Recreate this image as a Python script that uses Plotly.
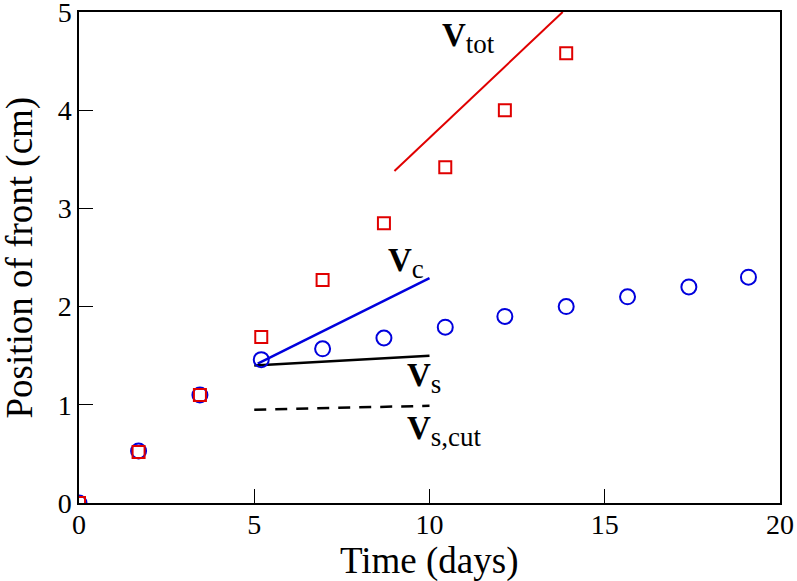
import plotly.graph_objects as go

t_circ = [0, 1.7, 3.45, 5.2, 6.95, 8.7, 10.45, 12.15, 13.9, 15.65, 17.4, 19.1]
y_circ = [0, 0.53, 1.1, 1.46, 1.57, 1.68, 1.79, 1.9, 2.0, 2.1, 2.2, 2.3]
t_sq = [0, 1.7, 3.45, 5.2, 6.95, 8.7, 10.45, 12.15, 13.9]
y_sq = [0, 0.52, 1.1, 1.69, 2.27, 2.85, 3.42, 4.0, 4.58]

vtot_x = [9.0, 13.8]
vtot_y = [3.38, 5.0]
vc_x = [5.1, 10.0]
vc_y = [1.42, 2.29]
vs_x = [5.0, 10.0]
vs_y = [1.40, 1.50]
vscut_x = [5.0, 10.0]
vscut_y = [0.95, 0.99]

fig = go.Figure()
fig.add_trace(go.Scatter(x=vtot_x, y=vtot_y, mode="lines", line=dict(color="#e00000", width=2)))
fig.add_trace(go.Scatter(x=vc_x, y=vc_y, mode="lines", line=dict(color="#0000dd", width=2.5)))
fig.add_trace(go.Scatter(x=vs_x, y=vs_y, mode="lines", line=dict(color="black", width=2.5)))
fig.add_trace(go.Scatter(x=vscut_x, y=vscut_y, mode="lines", line=dict(color="black", width=2.5, dash="12px,9px")))
fig.add_trace(go.Scatter(x=t_circ, y=y_circ, mode="markers",
                         marker=dict(symbol="circle-open", size=15, color="#0000dd", line=dict(width=2))))
fig.add_trace(go.Scatter(x=t_sq, y=y_sq, mode="markers",
                         marker=dict(symbol="square-open", size=12, color="#e00000", line=dict(width=2))))

font = "Liberation Serif"
sub = "<span style='font-size:27px'>{}</span>"
labels = [
    (10.3, 4.74, "<b>V</b><sub>" + sub.format("tot") + "</sub>"),
    (8.75, 2.44, "<b>V</b><sub>" + sub.format("c") + "</sub>"),
    (9.3, 1.27, "<b>V</b><sub>" + sub.format("s") + "</sub>"),
    (9.3, 0.73, "<b>V</b><sub>" + sub.format("s,cut") + "</sub>"),
]
for x, y, txt in labels:
    fig.add_annotation(x=x, y=y, text=txt, showarrow=False, xanchor="left", yanchor="middle",
                       font=dict(family=font, size=33, color="black"))

# axis titles
fig.add_annotation(xref="paper", yref="paper", x=0.5, y=0, yanchor="middle", yshift=-58,
                   text="Time (days)", showarrow=False, font=dict(family=font, size=37, color="black"))
fig.add_annotation(xref="paper", yref="paper", x=0, y=0.5, xanchor="center", xshift=-60,
                   textangle=-90, text="Position of front (cm)", showarrow=False,
                   font=dict(family=font, size=37, color="black"))

fig.update_layout(
    width=797, height=581,
    margin=dict(l=79, r=17, t=12, b=78),
    plot_bgcolor="white", paper_bgcolor="white",
    showlegend=False,
    font=dict(family=font, size=28, color="black"),
)
fig.update_xaxes(range=[0, 20], tickvals=[0, 5, 10, 15, 20], ticks="inside", ticklen=14,
                 tickcolor="black", showline=True, linecolor="black", linewidth=1.5, mirror=True,
                 showgrid=False, zeroline=False, automargin=False, ticklabelstandoff=-4,
                 ticklabeloverflow="allow")
fig.update_yaxes(range=[0, 5], tickvals=[0, 1, 2, 3, 4, 5], ticks="inside", ticklen=14,
                 tickcolor="black", showline=True, linecolor="black", linewidth=1.5, mirror=True,
                 showgrid=False, zeroline=False, ticklabelstandoff=0, automargin=False,
                 ticklabeloverflow="allow")
fig.write_html("out.html", config={"displayModeBar": False},
               post_script="document.body.style.margin='0';")
